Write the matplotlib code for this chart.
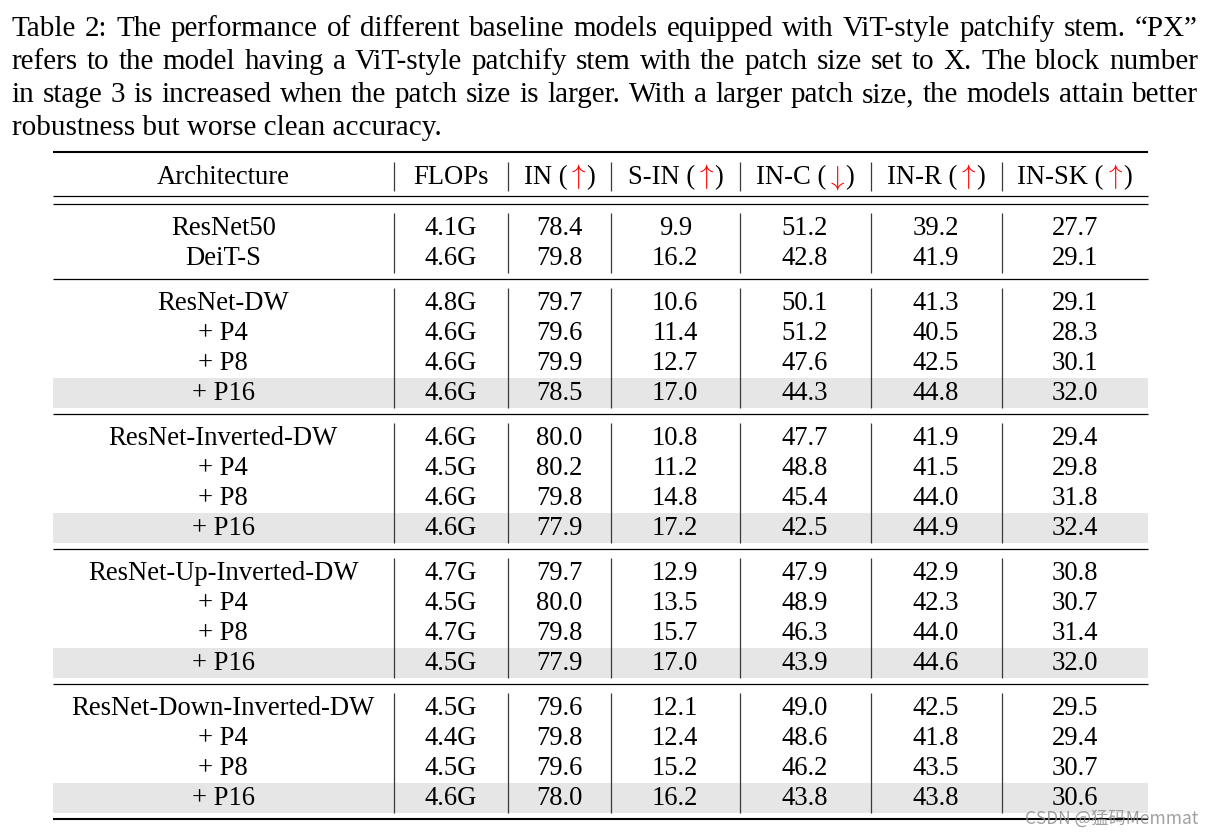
import matplotlib
matplotlib.use("Agg")
import matplotlib.pyplot as plt

plt.rcParams["mathtext.fontset"] = "cm"

# --- table content ---
caption_lines = [
    "Table 2: The performance of different baseline models equipped with ViT-style patchify stem. \u201cPX\u201d",
    "refers to the model having a ViT-style patchify stem with the patch size set to X. The block number",
    "in stage 3 is increased when the patch size is larger. With a larger patch size, the models attain better",
    "robustness but worse clean accuracy.",
]

header_names = ["Architecture", "FLOPs", "IN", "S-IN", "IN-C", "IN-R", "IN-SK"]
header_arrows = [None, None, r"$\uparrow$", r"$\uparrow$", r"$\downarrow$",
                 r"$\uparrow$", r"$\uparrow$"]

architectures = [
    "ResNet50", "DeiT-S",
    "ResNet-DW", "+ P4", "+ P8", "+ P16",
    "ResNet-Inverted-DW", "+ P4", "+ P8", "+ P16",
    "ResNet-Up-Inverted-DW", "+ P4", "+ P8", "+ P16",
    "ResNet-Down-Inverted-DW", "+ P4", "+ P8", "+ P16",
]
flops = ["4.1G", "4.6G",
         "4.8G", "4.6G", "4.6G", "4.6G",
         "4.6G", "4.5G", "4.6G", "4.6G",
         "4.7G", "4.5G", "4.7G", "4.5G",
         "4.5G", "4.4G", "4.5G", "4.6G"]
in_acc = [78.4, 79.8,
          79.7, 79.6, 79.9, 78.5,
          80.0, 80.2, 79.8, 77.9,
          79.7, 80.0, 79.8, 77.9,
          79.6, 79.8, 79.6, 78.0]
s_in = [9.9, 16.2,
        10.6, 11.4, 12.7, 17.0,
        10.8, 11.2, 14.8, 17.2,
        12.9, 13.5, 15.7, 17.0,
        12.1, 12.4, 15.2, 16.2]
in_c = [51.2, 42.8,
        50.1, 51.2, 47.6, 44.3,
        47.7, 48.8, 45.4, 42.5,
        47.9, 48.9, 46.3, 43.9,
        49.0, 48.6, 46.2, 43.8]
in_r = [39.2, 41.9,
        41.3, 40.5, 42.5, 44.8,
        41.9, 41.5, 44.0, 44.9,
        42.9, 42.3, 44.0, 44.6,
        42.5, 41.8, 43.5, 43.8]
in_sk = [27.7, 29.1,
         29.1, 28.3, 30.1, 32.0,
         29.4, 29.8, 31.8, 32.4,
         30.8, 30.7, 31.4, 32.0,
         29.5, 29.4, 30.7, 30.6]

group_sizes = [2, 4, 4, 4, 4]
highlight_rows = [5, 9, 13, 17]   # the "+ P16" rows get a grey band

# --- layout (pixels) ---
W, H = 1214, 837
col_edges = [53, 393.5, 508, 611, 739.5, 870.5, 1001.5, 1148]
col_centers = [(a + b) / 2 for a, b in zip(col_edges[:-1], col_edges[1:])]
row_h = 30
fs_table = 19.2
fs_caption = 21.0
serif = ["Liberation Serif", "DejaVu Serif"]

fig = plt.figure(figsize=(W / 100, H / 100), dpi=100)
ax = fig.add_axes([0, 0, 1, 1])
ax.set_xlim(0, W)
ax.set_ylim(H, 0)
ax.axis("off")
renderer = fig.canvas.get_renderer()


def text_width(s, size):
    t = ax.text(0, 0, s, fontsize=size, family=serif)
    w = t.get_window_extent(renderer).width
    t.remove()
    return w


# --- caption, justified like the paper ---
cap_left, cap_right = 11.7, 1198
for i, line in enumerate(caption_lines):
    y = 36 + i * 33
    if i == len(caption_lines) - 1:
        ax.text(cap_left, y, line, fontsize=fs_caption, family=serif,
                ha="left", va="baseline")
        continue
    words = line.split(" ")
    widths = [text_width(w, fs_caption) for w in words]
    gap = (cap_right - cap_left - sum(widths)) / (len(words) - 1)
    x = cap_left
    for w, wd in zip(words, widths):
        ax.text(x, y, w, fontsize=fs_caption, family=serif,
                ha="left", va="baseline")
        x += wd + gap


def vlines(top, bottom):
    for xe in col_edges[1:-1]:
        ax.plot([xe, xe], [top, bottom], color="#3a3a3a", lw=0.9,
                solid_capstyle="butt")


def hrule(y, lw):
    ax.plot([col_edges[0], col_edges[-1]], [y, y], color="black", lw=lw,
            solid_capstyle="butt")


# --- header ---
top_rule = 153
hrule(top_rule, 1.5)
head_top = 163
vlines(head_top, head_top + row_h - 1)
base = head_top + 21
for name, arrow, xc in zip(header_names, header_arrows, col_centers):
    if arrow is None:
        ax.text(xc, base, name, fontsize=fs_table, family=serif,
                ha="center", va="baseline")
        continue
    pieces = [(name + " (", "black"), (arrow, "red"), (")", "black")]
    widths = [text_width(p, fs_table) for p, _ in pieces]
    x = xc - sum(widths) / 2
    for (p, c), wd in zip(pieces, widths):
        ax.text(x, base, p, fontsize=fs_table, family=serif, color=c,
                ha="left", va="baseline")
        x += wd

hrule(197.3, 0.9)
rule_y = 204.6
hrule(rule_y, 0.9)

# --- body ---
columns = [architectures, flops,
           [f"{v:.1f}" for v in in_acc], [f"{v:.1f}" for v in s_in],
           [f"{v:.1f}" for v in in_c], [f"{v:.1f}" for v in in_r],
           [f"{v:.1f}" for v in in_sk]]
r = 0
for gi, n in enumerate(group_sizes):
    g_top = rule_y + 9
    for k in range(n):
        y0 = g_top + k * row_h
        if r in highlight_rows:
            ax.fill_between([col_edges[0], col_edges[-1]], y0, y0 + row_h,
                            color="#e6e6e6", lw=0, zorder=0)
        for col, xc in zip(columns, col_centers):
            ax.text(xc, y0 + 21, col[r], fontsize=fs_table, family=serif,
                    ha="center", va="baseline")
        r += 1
    g_bot = g_top + n * row_h
    vlines(g_top, g_bot)
    rule_y = g_bot + 6
    hrule(rule_y, 1.5 if gi == len(group_sizes) - 1 else 0.9)

# watermark
ax.text(1198, 819, "CSDN @\u731b\u7801Memmat", fontsize=12.5, color="#8f8f8f",
        alpha=0.85, family=["Noto Sans CJK SC", "DejaVu Sans"],
        ha="right", va="center", zorder=5)

fig.savefig("out.png", dpi=100)
